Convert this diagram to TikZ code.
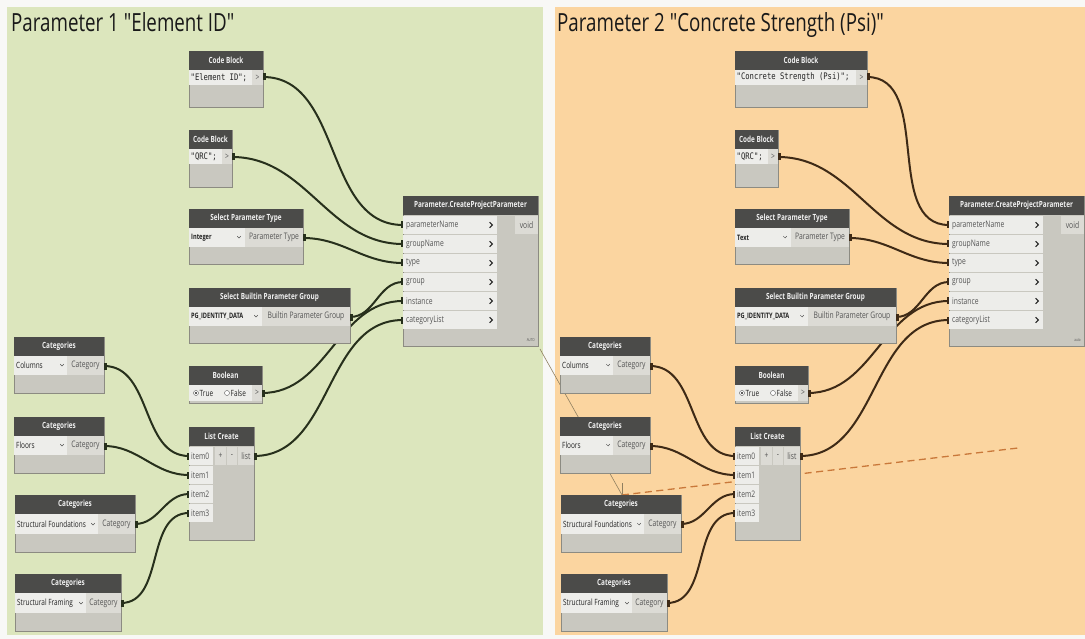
\documentclass[tikz,border=0pt]{standalone}
\usepackage{fontspec}
\setmainfont{Open Sans}[FakeStretch=0.75, Ligatures=TeXOff]
\newfontfamily\codefont{DejaVu Sans Mono}[FakeStretch=0.8, Ligatures=TeXOff]
\usetikzlibrary{calc}

\definecolor{pagebg}{HTML}{F8F8F6}
\definecolor{pgreen}{HTML}{DCE6BD}
\definecolor{porange}{HTML}{FBD5A0}
\definecolor{nhead}{HTML}{4B4B49}
\definecolor{nbody}{HTML}{C9C8C0}
\definecolor{nfield}{HTML}{EDEDEA}
\definecolor{nout}{HTML}{DCDBD5}
\definecolor{nedge}{HTML}{8C8B82}
\definecolor{ntext}{HTML}{555555}
\definecolor{ndark}{HTML}{222222}
\definecolor{wgreen}{HTML}{27301C}
\definecolor{wbrown}{HTML}{3E2A16}
\definecolor{guidec}{HTML}{8F7F60}
\definecolor{dashc}{HTML}{C9783A}
\colorlet{wirec}{wgreen}

\tikzset{
  x=1pt, y=-1pt,
  nbox/.style={anchor=north west, inner sep=0pt, outer sep=0pt, fill=nbody, draw=nedge, line width=0.6pt},
  nhdr/.style={anchor=north west, inner sep=0pt, outer sep=0pt, fill=nhead, minimum height=19pt,
    text=white!94!black, font=\fontsize{8.5}{9}\selectfont\bfseries},
  fld/.style={anchor=north west, inner sep=0pt, outer sep=0pt, fill=nfield},
  ftxt/.style={anchor=west, inner xsep=2pt, inner ysep=0pt, text=ndark, font=\fontsize{8.6}{10}\selectfont},
  otxt/.style={text=ntext, font=\fontsize{9}{10}\selectfont},
  ctxt/.style={anchor=west, inner xsep=1.5pt, inner ysep=0pt, text=ndark, font=\codefont\fontsize{9}{10}\selectfont},
  seltxt/.style={anchor=west, inner xsep=2pt, inner ysep=0pt, text=ndark, font=\fontsize{7.5}{8}\selectfont\bfseries},
  rowtxt/.style={anchor=west, inner xsep=3pt, inner ysep=0pt, text=ntext, font=\fontsize{9}{10}\selectfont},
  chev/.style={draw=ntext, line width=0.5pt},
  parrow/.style={draw=ndark, line width=1.1pt},
  wire/.style={draw=wirec, line width=2pt},
  pmark/.style={fill=wirec},
  ttl/.style={anchor=base west, inner sep=0pt, text=black!90, font=\fontsize{25}{28}\selectfont},
  guide/.style={draw=guidec, line width=0.6pt},
  dashline/.style={draw=dashc, line width=1.3pt, dash pattern=on 7pt off 4.5pt},
}

% node frame with dark title bar: name, x, y, width, height, title
\newcommand\DynBox[6]{%
  \node[nbox, minimum width={(#4)*1pt}, minimum height={(#5)*1pt}] (#1) at (#2,#3) {};
  \node[nhdr, minimum width={(#4)*1pt}] (#1-h) at (#2,#3) {#6};}
% light input field with left aligned content: name, x, y, width, height, style, text
\newcommand\DynField[7]{%
  \node[fld, minimum width={(#4)*1pt}, minimum height={(#5)*1pt}] (#1) at (#2,#3) {};
  \node[#6] (#1-t) at (#1.west) {#7};}
% grey output field with centred label: name, x, y, width, height, text
\newcommand\DynOut[6]{%
  \node[fld, fill=nout, otxt, minimum width={(#4)*1pt}, minimum height={(#5)*1pt}] (#1) at (#2,#3) {#6};}
% drop-down marker
\newcommand\Chev[2]{\draw[chev] (#1-1.8,#2-0.9) -- (#1,#2+0.9) -- (#1+1.8,#2-0.9);}
% input port arrow
\newcommand\PArrow[2]{\draw[parrow] (#1-1.4,#2-2.8) -- (#1+1.4,#2) -- (#1-1.4,#2+2.8);}
% port tabs where a wire meets a node
\newcommand\OMark[1]{\fill[pmark] ($(#1)+(0,-3.5)$) rectangle ($(#1)+(2.5,3.5)$);}
\newcommand\IMark[1]{\fill[pmark] ($(#1)+(-2.5,-3.5)$) rectangle ($(#1)+(0,3.5)$);}

% one Dynamo graph: prefix, x shift, code text, code block width, parameter type, footer label, wire colour
\newcommand\DynPanel[7]{%
\begin{scope}[xshift=#2pt]
\colorlet{wirec}{#7}
% ports
\coordinate (#1-cb1o) at (189+#4,77);
\coordinate (#1-cb2o) at (232,157);
\coordinate (#1-spto) at (303,238);
\coordinate (#1-sbgo) at (350,317);
\coordinate (#1-boolo) at (262,393);
\coordinate (#1-lco) at (254,456);
\coordinate (#1-colo) at (104,366);
\coordinate (#1-flo) at (104,446);
\coordinate (#1-sfo) at (135,524);
\coordinate (#1-sfro) at (121,603);
\foreach \k in {1,...,6} {\coordinate (#1-pin\k) at (403,206+19*\k);}
\foreach \k in {0,...,3} {\coordinate (#1-lin\k) at (189,456+19*\k);}
% wires
\draw[wire] (#1-cb1o) to[out=0,in=180] (#1-pin1);
\draw[wire] (#1-cb2o) to[out=0,in=180] (#1-pin2);
\draw[wire] (#1-spto) to[out=0,in=180] (#1-pin3);
\draw[wire] (#1-sbgo) to[out=0,in=180] (#1-pin4);
\draw[wire] (#1-boolo) to[out=0,in=180] (#1-pin5);
\draw[wire] (#1-lco) to[out=0,in=180] (#1-pin6);
\draw[wire] (#1-colo) to[out=0,in=180] (#1-lin0);
\draw[wire] (#1-flo) to[out=0,in=180] (#1-lin1);
\draw[wire] (#1-sfo) to[out=0,in=180] (#1-lin2);
\draw[wire] (#1-sfro) to[out=0,in=180] (#1-lin3);
% code blocks
\DynBox{#1-cb1}{189}{51}{#4}{56}{Code Block}
\DynField{#1-cb1a}{189}{70}{#4-11}{15}{ctxt}{"#3";}
\DynOut{#1-cb1b}{189+#4-11}{70}{11}{15}{>}
\DynBox{#1-cb2}{189}{130}{43}{57}{Code Block}
\DynField{#1-cb2a}{189}{149}{33}{15}{ctxt}{"QRC";}
\DynOut{#1-cb2b}{222}{149}{10}{15}{>}
% parameter type selector
\DynBox{#1-spt}{189}{209}{114}{55}{Select Parameter Type}
\DynField{#1-spta}{189}{228}{56}{19}{seltxt}{#5}
\Chev{239}{237}
\DynOut{#1-sptb}{245}{228}{58}{19}{Parameter Type}
% parameter group selector
\DynBox{#1-sbg}{189}{288}{161}{55}{Select Builtin Parameter Group}
\DynField{#1-sbga}{189}{307}{73}{19}{seltxt}{PG\_IDENTITY\_DATA}
\Chev{256}{316}
\DynOut{#1-sbgb}{262}{307}{88}{19}{Builtin Parameter Group}
% project parameter node
\DynBox{#1-pcp}{403}{196}{135}{150}{Parameter.CreateProjectParameter}
\foreach \lab [count=\k from 0] in {parameterName,groupName,type,group,instance,categoryList} {
  \node[fld, minimum width=94pt, minimum height=18pt] (#1-pr\k) at (403,216+19*\k) {};
  \node[rowtxt] (#1-pr\k-t) at (#1-pr\k.west) {\lab};
  \PArrow{491}{225+19*\k}
}
\DynOut{#1-pvoid}{515}{216}{23}{18}{void}
\node[anchor=east, inner sep=0pt, text=ntext, font=\fontsize{4}{4}\selectfont] (#1-auto) at (535,340) {#6};
% boolean toggle
\DynBox{#1-bool}{189}{366}{73}{37}{Boolean}
\DynField{#1-boola}{189}{385}{63}{16}{ftxt}{}
\draw[fill=white, draw=ntext, line width=0.4pt] (196,393) circle (2.5pt);
\fill[ndark] (196,393) circle (1.1pt);
\node[ftxt, inner xsep=0pt] (#1-true) at (199.5,393) {True};
\draw[fill=white, draw=ntext, line width=0.4pt] (227,393) circle (2.5pt);
\node[ftxt, inner xsep=0pt] (#1-false) at (230.5,393) {False};
\DynOut{#1-boolb}{252}{385}{10}{16}{>}
% list builder
\DynBox{#1-lc}{189}{427}{65}{113}{List Create}
\foreach \k in {0,...,3} {
  \node[fld, minimum width=24pt, minimum height=18pt] (#1-li\k) at (189,447+19*\k) {};
  \node[rowtxt, inner xsep=2pt] (#1-li\k-t) at (#1-li\k.west) {item\k};
}
\DynOut{#1-lplus}{215}{447}{11}{18}{+}
\DynOut{#1-lminus}{227}{447}{10}{18}{-}
\DynOut{#1-llist}{238}{447}{16}{18}{list}
% category pickers
\DynBox{#1-c1}{14}{337}{90}{56}{Categories}
\DynField{#1-c1a}{14}{356}{53}{19}{ftxt}{Columns}
\Chev{62}{365}
\DynOut{#1-c1b}{67}{356}{37}{19}{Category}
\DynBox{#1-c2}{14}{417}{90}{56}{Categories}
\DynField{#1-c2a}{14}{436}{53}{19}{ftxt}{Floors}
\Chev{62}{445}
\DynOut{#1-c2b}{67}{436}{37}{19}{Category}
\DynBox{#1-c3}{15}{495}{120}{57}{Categories}
\DynField{#1-c3a}{15}{514}{83}{20}{ftxt}{Structural Foundations}
\Chev{93}{524}
\DynOut{#1-c3b}{98}{514}{37}{20}{Category}
\DynBox{#1-c4}{15}{574}{106}{57}{Categories}
\DynField{#1-c4a}{15}{593}{71}{20}{ftxt}{Structural Framing}
\Chev{81}{603}
\DynOut{#1-c4b}{86}{593}{35}{20}{Category}
% port tabs
\foreach \p in {cb1o,cb2o,spto,sbgo,boolo,lco,colo,flo,sfo,sfro} {\OMark{#1-\p}}
\foreach \k in {1,...,6} {\IMark{#1-pin\k}}
\foreach \k in {0,...,3} {\IMark{#1-lin\k}}
\end{scope}}

\begin{document}
\begin{tikzpicture}
\useasboundingbox (0,0) rectangle (1085,639);
\fill[pagebg] (0,0) rectangle (1085,639);
% canvases
\fill[pgreen] (7,7) rectangle (543,635);
\fill[porange] (555,7) rectangle (1085,635);
\node[ttl] (title1) at (11,32) {Parameter 1 "Element ID"};
\node[ttl] (title2) at (557,32) {Parameter 2 "Concrete Strength (Psi)"};

\DynPanel{L}{0}{Element ID}{74}{Integer}{AUTO}{wgreen}

% selection guide and drag line on the second canvas
\coordinate (g0) at (540,349);
\coordinate (g1) at (622,495);
\coordinate (g2) at (622,483);
\coordinate (d1) at (1018,448);
\draw[guide] (g0) -- (g1);
\draw[guide] (g2) -- (g1);
\draw[dashline] (g1) -- (d1);

\DynPanel{R}{546}{Concrete Strength (Psi)}{132}{Text}{auto}{wbrown}
\end{tikzpicture}
\end{document}
